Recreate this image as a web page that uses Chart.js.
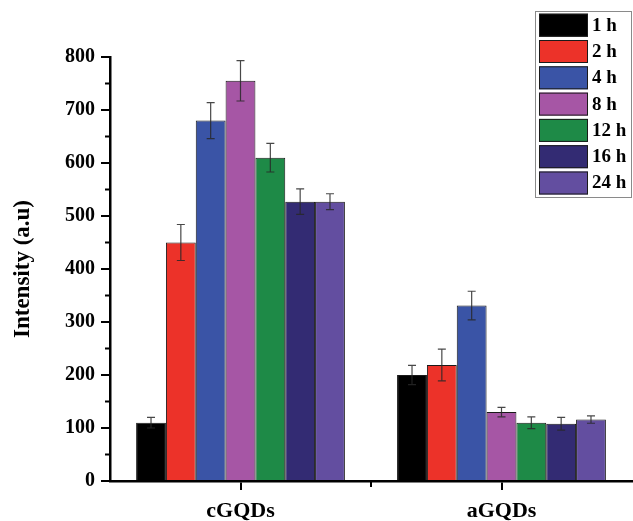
<!DOCTYPE html>
<html>
<head>
<meta charset="utf-8">
<script src="https://cdn.jsdelivr.net/npm/chart.js@4.4.1/dist/chart.umd.min.js"></script>
<style>
  html, body { margin: 0; padding: 0; background: #fff; }
  #wrap { width: 633px; height: 521px; position: relative; }
</style>
</head>
<body>
<div id="wrap"><canvas id="c" width="633" height="521"></canvas></div>
<script>
const categories = ['cGQDs', 'aGQDs'];
const seriesLabels = ['1 h', '2 h', '4 h', '8 h', '12 h', '16 h', '24 h'];
const v1h = [110, 200];
const v2h = [450, 219];
const v4h = [680, 331];
const v8h = [755, 130];
const v12h = [610, 110];
const v16h = [527, 108];
const v24h = [527, 116];
const e1h = [10, 18];
const e2h = [34, 30];
const e4h = [34, 27];
const e8h = [38, 9];
const e12h = [27, 11];
const e16h = [24, 12];
const e24h = [15, 7];
const yTicks = [0, 100, 200, 300, 400, 500, 600, 700, 800];
const yMinorTicks = [50, 150, 250, 350, 450, 550, 650, 750];

const colors = ['#000000', '#ec3229', '#3a54a6', '#a656a5', '#1e8a47', '#332b73', '#634ea0'];
const values = [v1h, v2h, v4h, v8h, v12h, v16h, v24h];
const errors = [e1h, e2h, e4h, e8h, e12h, e16h, e24h];

const FONT = "'Liberation Serif', 'Times New Roman', serif";

const datasets = seriesLabels.map((lab, i) => ({
  label: lab,
  data: values[i],
  errors: errors[i],
  backgroundColor: colors[i],
  borderColor: '#1a1a1a',
  borderWidth: 1,
  categoryPercentage: 0.8,
  barPercentage: 1.0
}));

const errorBarPlugin = {
  id: 'errorBars',
  afterDatasetsDraw(chart) {
    const ctx = chart.ctx;
    const ys = chart.scales.y;
    ctx.save();
    ctx.strokeStyle = 'rgba(40,40,40,0.85)';
    ctx.lineWidth = 1.2;
    chart.data.datasets.forEach((ds, i) => {
      const meta = chart.getDatasetMeta(i);
      meta.data.forEach((el, j) => {
        const v = ds.data[j], e = ds.errors[j];
        const x = el.x;
        const yt = ys.getPixelForValue(v + e);
        const yb = ys.getPixelForValue(v - e);
        ctx.beginPath();
        ctx.moveTo(x, yt); ctx.lineTo(x, yb);
        ctx.moveTo(x - 4, yt); ctx.lineTo(x + 4, yt);
        ctx.moveTo(x - 4, yb); ctx.lineTo(x + 4, yb);
        ctx.stroke();
      });
    });
    ctx.restore();
  }
};

const minorTickPlugin = {
  id: 'minorTicks',
  afterDraw(chart) {
    const ctx = chart.ctx;
    const ys = chart.scales.y, xs = chart.scales.x;
    const ca = chart.chartArea;
    ctx.save();
    ctx.strokeStyle = '#000';
    ctx.lineWidth = 2;
    yMinorTicks.forEach(v => {
      const y = ys.getPixelForValue(v);
      ctx.beginPath();
      ctx.moveTo(ca.left - 5, y); ctx.lineTo(ca.left, y);
      ctx.stroke();
    });
    for (let k = 0; k < categories.length - 1; k++) {
      const x = (xs.getPixelForValue(k) + xs.getPixelForValue(k + 1)) / 2;
      ctx.beginPath();
      ctx.moveTo(x, ca.bottom); ctx.lineTo(x, ca.bottom + 6);
      ctx.stroke();
    }
    ctx.restore();
  }
};

const legendPlugin = {
  id: 'boxLegend',
  afterDraw(chart) {
    const ctx = chart.ctx;
    ctx.save();
    ctx.strokeStyle = '#8a8a8a';
    ctx.lineWidth = 1;
    ctx.strokeRect(535.5, 11.5, 96, 186);
    chart.data.datasets.forEach((ds, i) => {
      const y = 13.7 + i * 26.3;
      ctx.fillStyle = ds.backgroundColor;
      ctx.fillRect(539, y, 49, 23);
      ctx.strokeStyle = '#1a1a1a';
      ctx.lineWidth = 1;
      ctx.strokeRect(539.5, y + 0.5, 48, 22);
      ctx.fillStyle = '#000';
      ctx.font = 'bold 19px ' + FONT;
      ctx.textBaseline = 'middle';
      ctx.textAlign = 'left';
      ctx.fillText(ds.label, 592, y + 12);
    });
    ctx.restore();
  }
};

new Chart(document.getElementById('c'), {
  type: 'bar',
  data: { labels: categories, datasets },
  plugins: [errorBarPlugin, minorTickPlugin, legendPlugin],
  options: {
    responsive: false,
    animation: false,
    devicePixelRatio: 1,
    layout: { padding: { top: 57, right: 1, left: 0, bottom: 0 } },
    plugins: { legend: { display: false }, tooltip: { enabled: false } },
    scales: {
      x: {
        grid: { display: true, drawOnChartArea: false, drawTicks: true, tickLength: 9, color: '#000', lineWidth: 2, offset: false },
        border: { display: true, color: '#000', width: 2.5 },
        ticks: { color: '#000', font: { family: FONT, size: 22, weight: 'bold' }, padding: 8 },
        afterFit(s) { s.height = 40; }
      },
      y: {
        min: 0, max: 800,
        afterBuildTicks(s) { s.ticks = yTicks.map(v => ({ value: v })); },
        grid: { display: true, drawOnChartArea: false, drawTicks: true, tickLength: 9, color: '#000', lineWidth: 2 },
        border: { display: true, color: '#000', width: 2.5 },
        ticks: { color: '#000', font: { family: FONT, size: 20, weight: 'bold' }, padding: 6 },
        title: { display: true, text: 'Intensity (a.u)', color: '#000', font: { family: FONT, size: 23, weight: 'bold' }, padding: { top: 9, bottom: 0 } },
        afterFit(s) { s.width = 110; }
      }
    }
  }
});
</script>
</body>
</html>
